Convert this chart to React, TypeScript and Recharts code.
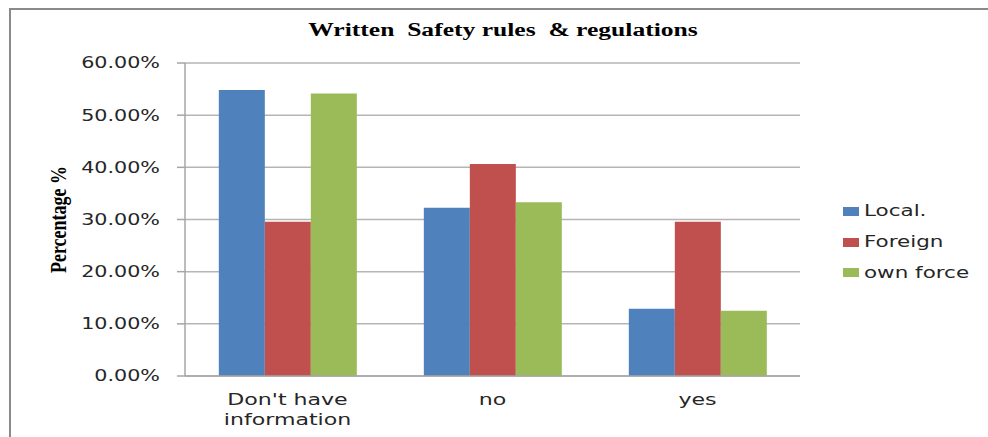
import React from 'react';
import { BarChart, Bar, XAxis, YAxis, CartesianGrid } from 'recharts';

// Categories and series values (percent)
const categories = ["Don't have information", 'no', 'yes'];
const localValues = [54.84, 32.26, 12.9];
const foreignValues = [29.55, 40.63, 29.55];
const ownForceValues = [54.17, 33.33, 12.5];
const yTicks = [0, 10, 20, 30, 40, 50, 60];

const seriesNames = ['Local.', 'Foreign', 'own force'];
const seriesColors = ['#4F81BD', '#C0504D', '#9BBB59'];

const data = categories.map((name, i) => ({
  name,
  local: localValues[i],
  foreign: foreignValues[i],
  own: ownForceValues[i],
}));

const SANS = '"DejaVu Sans", Verdana, sans-serif';
const SERIF = '"Liberation Serif", "Times New Roman", serif';
const STRETCH = 1.38;

const YTick = (props: any) => {
  const { x, y, payload } = props;
  return (
    <g transform={`translate(${x},${y})`}>
      <text
        transform={`scale(${STRETCH},1)`}
        textAnchor="end"
        dy="0.36em"
        fontFamily={SANS}
        fontSize={15}
        fill="#262626"
      >
        {`${Number(payload.value).toFixed(2)}%`}
      </text>
    </g>
  );
};

const XTick = (props: any) => {
  const { x, y, payload } = props;
  const label: string = payload.value;
  const lines = label === "Don't have information" ? ["Don't have", 'information'] : [label];
  return (
    <g transform={`translate(${x},${y})`}>
      <text
        transform={`scale(${STRETCH},1)`}
        textAnchor="middle"
        fontFamily={SANS}
        fontSize={16}
        fill="#262626"
      >
        {lines.map((ln, i) => (
          <tspan key={i} x={0} y={21 + i * 20}>
            {ln}
          </tspan>
        ))}
      </text>
    </g>
  );
};

const YLabel = (props: any) => {
  const { viewBox } = props;
  const cx = viewBox.x + 48;
  const cy = viewBox.y + viewBox.height / 2;
  return (
    <g transform={`translate(${cx},${cy}) scale(1.3,1) rotate(-90)`}>
      <text
        textAnchor="middle"
        dominantBaseline="central"
        fontFamily={SERIF}
        fontWeight="bold"
        fontSize={18}
        fill="#000"
      >
        Percentage %
      </text>
    </g>
  );
};

const LegendBox = () => (
  <div style={{ position: 'absolute', left: 843, top: 196 }}>
    {seriesNames.map((n, i) => (
      <div key={n} style={{ height: 30.7, display: 'flex', alignItems: 'center' }}>
        <span
          style={{ width: 16, height: 9, background: seriesColors[i], display: 'inline-block', marginRight: 5 }}
        />
        <span
          style={{
            fontFamily: SANS,
            fontSize: 15,
            color: '#262626',
            display: 'inline-block',
            transform: 'scaleX(1.43)',
            transformOrigin: 'left center',
            whiteSpace: 'nowrap',
          }}
        >
          {n}
        </span>
      </div>
    ))}
  </div>
);

export default function App() {
  return (
    <div
      style={{
        position: 'absolute',
        left: 0,
        top: 0,
        width: 988,
        height: 437,
        overflow: 'hidden',
        background: '#fff',
      }}
    >
      <div
        style={{
          position: 'absolute',
          left: 9,
          top: 8,
          width: 1000,
          height: 460,
          borderLeft: '2px solid #8a8a8a',
          borderTop: '2px solid #8a8a8a',
        }}
      />
      <div
        style={{
          position: 'absolute',
          left: 503,
          top: 20,
          transform: `translateX(-50%) scaleX(1.42)`,
          fontFamily: SERIF,
          fontWeight: 'bold',
          fontSize: 18,
          lineHeight: '20px',
          whiteSpace: 'pre',
          color: '#000',
        }}
      >
        {'Written  Safety rules  & regulations'}
      </div>
      <div style={{ position: 'absolute', left: 0, top: 0 }}>
        <BarChart
          width={988}
          height={437}
          data={data}
          margin={{ top: 63, right: 188, bottom: 0, left: 10 }}
          barCategoryGap="16.5%"
          barGap={0}
        >
          <CartesianGrid vertical={false} stroke="#B5B5B5" strokeWidth={1.5} />
          <XAxis
            dataKey="name"
            height={61}
            tick={<XTick />}
            tickLine={false}
            axisLine={{ stroke: '#A6A6A6', strokeWidth: 1.5 }}
            interval={0}
          />
          <YAxis
            width={175}
            domain={[0, 60]}
            ticks={yTicks}
            tick={<YTick />}
            tickSize={8}
            tickMargin={17}
            tickLine={{ stroke: '#A6A6A6', strokeWidth: 1.5 }}
            axisLine={{ stroke: '#A6A6A6', strokeWidth: 1.5 }}
            label={<YLabel />}
          />
          <Bar dataKey="local" name={seriesNames[0]} fill={seriesColors[0]} isAnimationActive={false} />
          <Bar dataKey="foreign" name={seriesNames[1]} fill={seriesColors[1]} isAnimationActive={false} />
          <Bar dataKey="own" name={seriesNames[2]} fill={seriesColors[2]} isAnimationActive={false} />
        </BarChart>
      </div>
      <LegendBox />
    </div>
  );
}
